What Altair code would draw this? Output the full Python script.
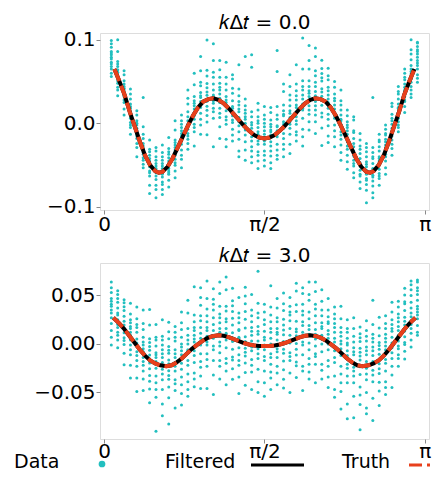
import altair as alt
import pandas as pd

# ---------------- data ----------------
x_cols = [0.07, 0.1325, 0.195, 0.2575, 0.32, 0.3825, 0.445, 0.5075, 0.57, 0.6325,
          0.695, 0.7575, 0.82, 0.8825, 0.945, 1.0075, 1.07, 1.1325, 1.195, 1.2575,
          1.32, 1.3825, 1.445, 1.5075, 1.57, 1.6325, 1.695, 1.7575, 1.82, 1.8825,
          1.945, 2.0075, 2.07, 2.1325, 2.195, 2.2575, 2.32, 2.3825, 2.445, 2.5075,
          2.57, 2.6325, 2.695, 2.7575, 2.82, 2.8825, 2.945, 3.0075, 3.07]

# centre of each data column (thousandths) and the scatter of the points around it
top_center = [74, 55, 36, 11, -11, -32, -49, -57, -58, -50, -35, -19, -3, 12, 23, 28.5,
              30, 27, 21, 12, 4, -4, -13, -16, -18, -16, -13, -4, 4, 12, 21, 27, 30,
              28.5, 23, 12, -3, -19, -35, -50, -58, -57, -49, -32, -11, 11, 36, 55, 74]
top_dev = [
    [12, -3, 21, 5, -14, 8, -1, 17, -9, 3, 25, -6, 10, -18],
    [-7, 16, 2, -22, 9, 31, -4, 13, -12, 0, 6, 45, -15, 19],
    [4, -11, 27, -2, 15, -19, 8, 1, -8, 22, 11, -26, 6, -4],
    [-16, 7, 3, 30, -5, 12, -24, 18, -1, 9, -10, 2, 24, -13],
    [9, -2, -18, 14, 5, -29, 21, 0, -7, 11, -13, 26, -4, 3],
    [-5, 19, 63, -12, 2, -21, 8, 14, -3, -9, 28, -17, 5, 1],
    [15, -8, 4, -25, 11, 1, -14, 29, -3, 7, -35, 18, -10, 2],
    [-2, 13, -17, 6, 24, -10, 1, -32, 9, 17, -6, 3, -22, 28],
    [7, -21, 14, 0, -6, 23, -12, 4, 32, -27, 10, -3, 18, -15],
    [-11, 5, 20, -4, 13, -18, 33, -7, 2, -26, 9, 16, -1, -9],
    [3, -15, 9, 27, -8, 0, 15, -22, 6, -3, 38, -12, 12, -30],
    [18, -6, -24, 4, 10, -13, 1, 29, -19, 7, -2, 14, -34, 22],
    [-9, 26, 6, -16, 0, 43, -4, 11, -28, 17, 2, -12, 33, -21],
    [5, -13, 34, 1, -22, 15, -7, 48, 9, -39, 20, -3, 12, -17],
    [-4, 22, -11, 8, 57, -25, 3, 14, -36, 26, -1, 10, -18, 40],
    [14, -8, 28, -19, 5, 71, -2, -42, 19, 0, -13, 35, 9, -27],
    [-6, 17, 2, 45, -24, 10, -58, 25, -12, 4, 65, -3, 31, -16],
    [21, -15, 8, -2, 37, -31, 13, 3, -45, 28, -9, 16, 48, -20],
    [-13, 4, 26, -22, 11, 52, -6, -40, 19, 0, 34, -17, 7, -49],
    [8, -19, 15, 41, -3, 24, -33, 6, -11, 30, -26, 2, 46, -8],
    [-2, 29, -14, 66, 10, -37, 18, -7, 3, 22, -23, 13, -44, 37],
    [16, -10, 4, 33, -28, 84, 9, -18, 25, -4, 12, -40, 1, 20],
    [-8, 21, -20, 7, 95, -3, 14, -34, 27, 2, -15, 11, -27, 80],
    [11, -5, 24, -18, 3, 32, -29, 16, -9, 40, -22, 6, -38, 19],
    [-15, 9, 1, 23, -26, 14, 38, -7, -33, 18, 5, -20, 28, -3],
    [6, -17, 29, -6, 12, -31, 35, 2, 20, -23, 8, -38, 15, -11],
    [-3, 18, -25, 10, 75, -12, 4, -30, 23, 0, -19, 33, 9, 100],
    [13, -8, 42, -21, 6, 26, -36, 15, -2, 51, -14, 19, -27, 3],
    [-10, 24, 3, -29, 17, 54, -5, 11, -40, 30, -17, 8, 40, -2],
    [7, -22, 16, 35, -9, 1, 58, -33, 21, -13, 10, -4, 27, -26],
    [-5, 19, -15, 81, 8, 30, -28, 13, -3, 44, -37, 23, 2, -48],
    [17, -11, 5, 38, -25, 12, 66, -6, 24, -35, 1, 48, -16, 9],
    [-9, 27, 14, -20, 60, 3, -42, 19, -4, 33, -28, 8, 50, -14],
    [4, -16, 31, 9, -34, 47, -7, 22, -55, 13, -1, 37, -21, 26],
    [-12, 20, 2, 43, -18, 11, -38, 29, 6, -26, 16, -5, 34, -46],
    [10, -6, 23, -14, 38, 0, -28, 15, -21, 31, 5, -40, 18, -3],
    [-7, 25, 8, -23, 13, 43, -11, 2, -32, 19, -16, 30, 6, -41],
    [14, -3, -19, 28, 6, -12, 21, -27, 1, 35, -8, 10, -36, 17],
    [-4, 11, 24, -16, 2, 39, -9, 17, -24, 7, 43, -13, 26, -30],
    [8, -13, 30, 3, -20, 14, -6, 38, -28, 19, 0, -11, 23, -1],
    [-10, 6, 18, -22, 29, -3, 12, -37, 24, 2, -15, 34, -8, 9],
    [3, 22, -12, 88, -5, 15, -26, 9, -32, 17, 28, -7, 1, -18],
    [16, -6, 4, 27, -17, 9, 36, -11, 0, -25, 21, 7, -14, 29],
    [-8, 13, -21, 6, 25, -2, 30, -13, 18, -29, 10, 3, -5, 20],
    [5, 31, -9, 14, -19, 22, 1, -27, 10, -4, 17, -14, 35, -1],
    [-13, 8, 24, -5, 12, -21, 33, 2, -9, 18, 0, -16, 27, 7],
    [11, -4, 19, -16, 2, 29, -10, 7, -23, 16, -1, 24, -8, 4],
    [-6, 21, 4, -15, 45, 10, -20, 14, -2, 28, -11, 7, 33, -24],
    [14, -9, 5, 22, -16, 1, 18, -5, 23, 9, -20, 12, -2, -25],
]

bot_center = [29, 23, 15.5, 7, -2, -10, -16.5, -20, -22, -22.5, -20, -15, -9, -3, 2, 6,
              8, 9, 8, 5.5, 3, 0.5, -1, -2, -2, -2, -1, 0.5, 3, 5.5, 8, 9, 8, 6, 2, -3,
              -9, -15, -20, -22.5, -22, -20, -16.5, -10, -2, 7, 15.5, 23, 29]
bot_dev = [
    [35, 12, -8, 24, 3, -15, 18, 6, -22, 29, -2, 10, -30, 15],
    [-6, 28, 14, -19, 7, 32, -11, 2, 20, -27, 9, -3, 24, -14],
    [19, -9, 4, -25, 13, 30, -16, 1, 23, -37, 8, -4, 27, -12],
    [-3, 24, -18, 9, 35, -8, 15, -29, 2, 18, -42, 11, -13, 5],
    [14, -21, 7, 28, -10, 40, -33, 3, 19, -6, -47, 22, 0, -15],
    [-12, 9, 31, -4, 17, -26, 2, 45, -18, 12, -38, 5, 25, -8],
    [5, -16, 22, 52, -9, 14, -30, 1, 36, -22, 10, -44, 18, -3],
    [-20, 11, -5, 27, -35, 6, 18, -13, 40, -70, 2, 24, -27, 9],
    [8, -25, 16, -9, 30, -40, 3, 21, -15, 47, -52, 12, -4, 26],
    [-14, 6, 35, -22, 13, -5, 45, -33, 20, 2, -60, 28, -10, 16],
    [23, -8, 10, -28, 38, 1, -17, 27, -46, 14, -3, 32, -21, 6],
    [-5, 30, -19, 12, -36, 48, 4, -11, 22, -27, 15, -48, 8, 37],
    [13, -22, 41, 3, -13, 25, -38, 9, 54, -8, 18, -30, 2, -45],
    [-9, 17, 5, -27, 33, -4, 12, -41, 26, 62, -16, 8, -33, 20],
    [27, -12, 46, -3, 15, -35, 9, 22, -20, 38, -48, 4, 56, -26],
    [-16, 8, 23, 59, -7, -29, 17, 2, 41, -22, 11, -52, 30, -4],
    [6, 33, -14, 19, -40, 49, -2, 12, -25, 27, -60, 38, 1, -10],
    [-7, 22, 3, -32, 13, 55, -18, 30, -45, 7, 43, -11, 18, -26],
    [18, -4, 31, -23, 48, 8, -36, 15, -12, 26, 61, -28, 3, -50],
    [-11, 28, -19, 6, 39, -31, 14, -3, 52, -42, 21, 1, -22, 34],
    [4, -14, 19, 45, -25, 11, -37, 29, 3, -7, -54, 24, 12, -20],
    [25, -9, 41, -20, 7, 58, -30, 16, -43, 2, 33, -13, 49, -5],
    [-2, 18, -28, 10, 36, -15, 24, -46, 4, 52, -21, 14, -6, 30],
    [12, 77, -13, 29, -37, 5, 20, -24, 44, -8, 15, -48, 34, -3],
    [-15, 9, 27, -4, 43, -26, 15, -38, 6, 22, -11, 35, -52, 1],
    [8, -19, 32, 62, -8, 14, -33, 25, 2, -45, 18, -12, 40, -27],
    [-4, 24, -22, 11, 38, -13, 28, -41, 5, 17, -29, 48, -7, 13],
    [19, -6, 34, -27, 9, 52, -18, 2, -37, 25, -10, 14, -46, 41],
    [-12, 30, 6, -33, 21, -2, 45, -20, 13, -53, 27, 1, -16, 36],
    [7, -24, 18, 49, -11, 28, -40, 10, -5, 35, -28, 57, 3, -17],
    [-6, 15, -31, 26, 4, 44, -19, 33, -56, 11, -9, 22, -36, 50],
    [24, -15, 10, -38, 36, 1, 55, -24, 17, -8, 42, -45, 6, -30],
    [-18, 7, 28, -10, 46, -29, 14, -3, 33, -48, 21, 2, 56, -21],
    [10, -27, 3, 38, -14, 23, -42, 16, 50, -6, 29, -33, -1, 12],
    [-8, 19, -19, 8, 33, -36, 26, -2, 45, -25, 12, -47, 21, 4],
    [15, -11, 29, -30, 5, 41, -16, 20, -44, 9, -4, 34, -52, 24],
    [-3, 26, -14, 12, -40, 17, 35, -22, 4, 48, -31, 9, -58, 21],
    [21, -6, 8, 31, -25, 14, -47, 27, -10, 3, 40, -18, 16, -62],
    [-13, 16, 36, -4, 22, -34, 9, -20, 47, -56, 28, 1, -8, 12],
    [6, -22, 14, 29, -9, 40, -40, 18, -1, -66, 25, 10, -30, 33],
    [-9, 25, -15, 4, 36, -28, 19, -44, 11, 46, -3, 30, -50, 15],
    [13, 65, -7, 22, -36, 8, 30, -19, 2, -59, 17, 40, -12, 26],
    [-4, 18, 33, -23, 11, -14, 44, -32, 6, 25, -47, 15, 0, -9],
    [16, -10, 26, 4, -29, 39, -18, 12, -42, 20, 31, -6, 8, -35],
    [-7, 22, -21, 35, 9, -13, 27, -2, 45, -30, 15, -43, 3, 18],
    [11, -18, 31, 2, -9, 24, -30, 16, -4, 37, -22, 7, 20, -12],
    [-2, 26, -14, 12, 35, -23, 8, 42, -8, 19, -31, 4, 28, -16],
    [20, -7, 38, 5, -19, 27, -12, 14, 33, -3, 9, -26, 42, 1],
    [4, 29, -10, 16, 35, -3, 22, -17, 10, 37, 1, -20, 26, 7],
]

top_curve_x = [0.10, 0.15, 0.20, 0.25, 0.30, 0.35, 0.40, 0.45, 0.50, 0.535, 0.57, 0.62,
               0.67, 0.72, 0.77, 0.82, 0.87, 0.92, 0.97, 1.02, 1.07, 1.12, 1.17, 1.22,
               1.27, 1.32, 1.37, 1.42, 1.47, 1.52, 1.571, 1.62, 1.67, 1.72, 1.77, 1.82,
               1.87, 1.92, 1.97, 2.02, 2.07, 2.12, 2.17, 2.22, 2.27, 2.32, 2.37, 2.42,
               2.47, 2.52, 2.57, 2.607, 2.64, 2.69, 2.74, 2.79, 2.84, 2.89, 2.94, 2.99, 3.04]
top_curve_y = [0.065, 0.050, 0.034, 0.014, -0.004, -0.022, -0.038, -0.050, -0.057, -0.059,
               -0.058, -0.052, -0.042, -0.029, -0.016, -0.003, 0.009, 0.019, 0.026, 0.029,
               0.030, 0.028, 0.024, 0.018, 0.011, 0.004, -0.003, -0.009, -0.014, -0.017,
               -0.018, -0.017, -0.014, -0.009, -0.003, 0.004, 0.011, 0.018, 0.024, 0.028,
               0.030, 0.029, 0.026, 0.019, 0.009, -0.003, -0.016, -0.029, -0.042, -0.052,
               -0.058, -0.059, -0.057, -0.050, -0.038, -0.022, -0.004, 0.014, 0.034, 0.050,
               0.065]

bot_curve_x = [0.09, 0.15, 0.20, 0.25, 0.30, 0.35, 0.40, 0.45, 0.50, 0.55, 0.61, 0.66,
               0.71, 0.76, 0.81, 0.86, 0.91, 0.96, 1.01, 1.06, 1.12, 1.17, 1.22, 1.27,
               1.32, 1.37, 1.42, 1.47, 1.52, 1.571, 1.62, 1.67, 1.72, 1.77, 1.82, 1.87,
               1.92, 1.97, 2.02, 2.08, 2.13, 2.18, 2.23, 2.28, 2.33, 2.38, 2.43, 2.48,
               2.53, 2.59, 2.64, 2.69, 2.74, 2.79, 2.84, 2.89, 2.94, 2.99, 3.05]
bot_curve_y = [0.027, 0.021, 0.015, 0.008, 0.001, -0.006, -0.012, -0.017, -0.020, -0.022,
               -0.023, -0.022, -0.019, -0.015, -0.010, -0.005, -0.001, 0.003, 0.006, 0.008,
               0.009, 0.0085, 0.007, 0.005, 0.003, 0.001, -0.0005, -0.0015, -0.002, -0.002,
               -0.002, -0.0015, -0.0005, 0.001, 0.003, 0.005, 0.007, 0.0085, 0.009, 0.008,
               0.006, 0.003, -0.001, -0.005, -0.010, -0.015, -0.019, -0.022, -0.023, -0.022,
               -0.020, -0.017, -0.012, -0.006, 0.001, 0.008, 0.015, 0.021, 0.027]

panel_titles = ["𝑘Δ𝑡 = 0.0", "𝑘Δ𝑡 = 3.0"]
legend_labels = ["Data", "Filtered", "Truth"]
x_tick_values = [0, 1.5707963, 3.1415926]
top_y_ticks = [-0.1, 0.0, 0.1]
bot_y_ticks = [-0.05, 0.0, 0.05]

# ---------------- styling ----------------
FONT = "DejaVu Sans"
CYAN = "#22bfbf"
RED = "#e8401c"
FRAME = "#8a8a8a"
XDOM = [-0.041, 3.183]


def points_frame(centers, devs):
    rows = []
    for xc, c, ds in zip(x_cols, centers, devs):
        for d in ds:
            rows.append({"x": xc, "y": (c + d) / 1000.0})
    return pd.DataFrame(rows)


def panel(centers, devs, cx, cy, ydom, yticks, yfmt, title, height, legend=False):
    pdf = points_frame(centers, devs)
    cdf = pd.DataFrame({"x": cx, "y": cy})
    xenc = alt.X("x:Q", scale=alt.Scale(domain=XDOM, nice=False, zero=False),
                 axis=alt.Axis(values=x_tick_values, title=None, grid=False,
                               labelExpr="datum.value < 0.5 ? '0' : (datum.value < 2 ? 'π/2' : 'π')",
                               labelFont=FONT, labelFontSize=20, labelColor="black",
                               tickSize=4, tickColor=FRAME, domain=False,
                               labelPadding=-2 if legend else 0, labelFlush=False))
    yenc = alt.Y("y:Q", scale=alt.Scale(domain=ydom, nice=False, zero=False),
                 axis=alt.Axis(values=yticks, format=yfmt, title=None, grid=False,
                               labelFont=FONT, labelFontSize=20, labelColor="black",
                               tickSize=4, tickColor=FRAME, domain=False, labelPadding=1,
                               minExtent=85, maxExtent=85))
    sc = alt.Chart(pdf).mark_circle(size=9, color=CYAN, opacity=1).encode(x=xenc, y=yenc)
    fl = alt.Chart(cdf).mark_line(color="black", strokeWidth=4).encode(x="x:Q", y="y:Q")
    tr = alt.Chart(cdf).mark_line(color=RED, strokeWidth=4, strokeDash=[13, 5]).encode(x="x:Q", y="y:Q")
    layers = [sc, fl, tr]
    if legend:
        ldf = pd.DataFrame({"label": legend_labels})
        base = alt.Chart(ldf)
        ty = height + 29
        sy = height + 26
        txt = dict(font=FONT, fontSize=19, align="left", baseline="alphabetic", color="black")
        layers += [
            base.transform_filter(alt.datum.label == legend_labels[0]).mark_text(**txt)
                .encode(x=alt.value(-86), y=alt.value(ty), text="label:N"),
            base.transform_filter(alt.datum.label == legend_labels[1]).mark_text(**txt)
                .encode(x=alt.value(65), y=alt.value(ty), text="label:N"),
            base.transform_filter(alt.datum.label == legend_labels[2]).mark_text(**txt)
                .encode(x=alt.value(242), y=alt.value(ty), text="label:N"),
            base.transform_filter(alt.datum.label == legend_labels[0]).mark_circle(size=45, color=CYAN, opacity=1)
                .encode(x=alt.value(2), y=alt.value(sy - 1)),
            base.transform_filter(alt.datum.label == legend_labels[1]).mark_rule(color="black", strokeWidth=3)
                .encode(x=alt.value(151), x2=alt.value(204), y=alt.value(sy)),
            base.transform_filter(alt.datum.label == legend_labels[2]).mark_rule(color=RED, strokeWidth=3, strokeDash=[13, 5])
                .encode(x=alt.value(309), x2=alt.value(330), y=alt.value(sy)),
        ]
    return alt.layer(*layers).properties(
        width=329, height=height,
        title=alt.TitleParams(title, font=FONT, fontSize=20, fontWeight="normal",
                              color="black", anchor="middle", offset=-3),
    )


top = panel(top_center, top_dev, top_curve_x, top_curve_y, [-0.1036, 0.108], top_y_ticks,
            ".1f", panel_titles[0], 177)
bot = panel(bot_center, bot_dev, bot_curve_x, bot_curve_y, [-0.098, 0.0835], bot_y_ticks,
            ".2f", panel_titles[1], 176, legend=True)

chart = alt.vconcat(top, bot, spacing=10).properties(
    padding={"left": 5, "top": 4, "right": 5, "bottom": 0}
).configure_view(
    stroke=FRAME, strokeWidth=1
).configure(background="white")

chart.save("out.html", embed_options={"renderer": "svg", "actions": False})
